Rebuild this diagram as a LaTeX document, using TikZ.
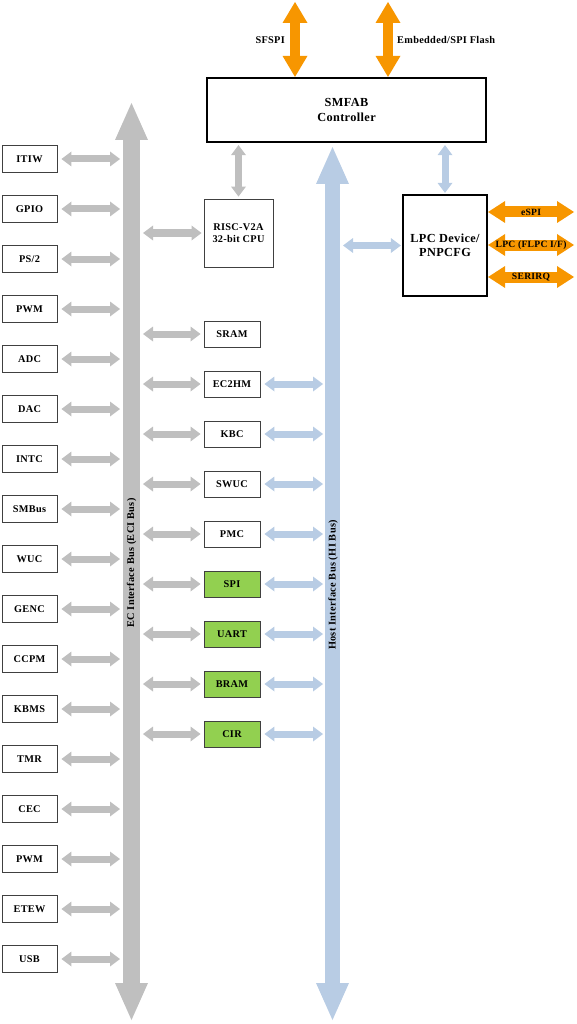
\documentclass[tikz,border=0pt]{standalone}
\usepackage{fontspec}
\setmainfont{Liberation Serif}[LetterSpace=3]
\usetikzlibrary{arrows.meta}
\definecolor{ecgray}{RGB}{191,191,191}
\definecolor{hiblue}{RGB}{184,204,228}
\definecolor{orng}{RGB}{247,150,0}
\definecolor{grn}{RGB}{146,208,80}
\definecolor{bdr}{RGB}{64,64,64}
\begin{document}
\begin{tikzpicture}[x=1pt,y=-1pt,
  lbl/.style={font=\bfseries\fontsize{10.3}{11}\selectfont,inner sep=1pt},
  box/.style={draw=bdr,line width=0.9pt,fill=white,minimum width=55pt,minimum height=27pt,font=\bfseries\fontsize{10.3}{11.5}\selectfont,inner sep=1pt,align=center},
  gbox/.style={box,fill=grn},
  bigbox/.style={draw=black,line width=2.2pt,fill=white,font=\bfseries\fontsize{12.3}{14.5}\selectfont,align=center,inner sep=1pt},
  garr/.style={draw=ecgray,line width=7pt,{Triangle[width=15pt,length=10pt,line width=0pt]}-{Triangle[width=15pt,length=10pt,line width=0pt]}},
  barr/.style={garr,draw=hiblue},
  oarrv/.style={draw=orng,line width=10.5pt,{Triangle[width=25pt,length=21pt,line width=0pt]}-{Triangle[width=25pt,length=21pt,line width=0pt]}},
  oarrh/.style={draw=orng,line width=11pt,{Triangle[width=22pt,length=17pt,line width=0pt]}-{Triangle[width=22pt,length=17pt,line width=0pt]}},
  busg/.style={draw=ecgray,line width=17pt,{Triangle[width=33pt,length=37pt,line width=0pt]}-{Triangle[width=33pt,length=37pt,line width=0pt]}},
  busb/.style={busg,draw=hiblue,line width=15pt},
  olbl/.style={font=\bfseries\fontsize{9.6}{10}\selectfont,inner sep=0pt,text=black}
]
\useasboundingbox (0,0) rectangle (576,1024);

% bus coordinates
\coordinate (ecitop) at (131.5,103);
\coordinate (ecibot) at (131.5,1020);
\coordinate (ecil) at (120,0);
\coordinate (ecir) at (143,0);
\coordinate (hitop) at (332.5,147);
\coordinate (hibot) at (332.5,1020);
\coordinate (hil) at (323,0);
\coordinate (hir) at (343,0);

% buses
\draw[busg] (ecitop) -- (ecibot);
\draw[busb] (hitop) -- (hibot);
\node[lbl,rotate=90] (ecilbl) at (131.5,563) {EC Interface Bus (ECI Bus)};
\node[lbl,rotate=90] (hilbl) at (333,585) {Host Interface Bus (HI Bus)};

% SMFAB controller
\node[bigbox,minimum width=279pt,minimum height=64pt] (smfab) at (346.5,110) {SMFAB\\Controller};
\coordinate (sfspitop) at (295,2);
\coordinate (flashtop) at (388,2);
\draw[oarrv] (sfspitop) -- (sfspitop |- smfab.north);
\draw[oarrv] (flashtop) -- (flashtop |- smfab.north);
\node[lbl,anchor=east] (sfspi) at (286,40) {SFSPI};
\node[lbl,anchor=west] (flash) at (396,40) {Embedded/SPI Flash};

% CPU
\node[box,minimum width=69pt,minimum height=68pt] (cpu) at (238.5,233) {RISC-V2A\\32-bit CPU};
\draw[garr,shorten <=2pt,shorten >=2pt] (cpu.north |- smfab.south) -- (cpu.north);
\draw[garr,shorten >=2pt] (cpu -| ecir) -- (cpu.west);

% LPC
\node[bigbox,minimum width=84pt,minimum height=101pt] (lpc) at (445,245.5) {LPC Device/\\PNPCFG};
\draw[barr,shorten <=2pt,shorten >=1pt] (lpc.north |- smfab.south) -- (lpc.north);
\draw[barr,shorten >=1pt] (lpc -| hir) -- (lpc.west);
\coordinate (espiend) at (574,212);
\coordinate (lpcend) at (574,245);
\coordinate (serend) at (574,277);
\draw[oarrh] (lpc.east |- espiend) -- node[olbl] (espi) {eSPI} (espiend);
\draw[oarrh] (lpc.east |- lpcend) -- node[olbl] (flpc) {LPC (FLPC I/F)} (lpcend);
\draw[oarrh] (lpc.east |- serend) -- node[olbl] (serirq) {SERIRQ} (serend);

% left column
\foreach \nm/\t [count=\i] in {itiw/ITIW,gpio/GPIO,ps2/{PS/2},pwma/PWM,adc/ADC,dac/DAC,intc/INTC,smbus/SMBus,wuc/WUC,genc/GENC,ccpm/CCPM,kbms/KBMS,tmr/TMR,cec/CEC,pwmb/PWM,etew/ETEW,usb/USB}{
  \node[box] (\nm) at (29.5,{109+50*\i}) {\t};
  \draw[garr,shorten <=4pt] (\nm.east) -- (\nm -| ecil);
}

% middle column
\foreach \nm/\t/\st [count=\i] in {sram/SRAM/box,ec2hm/EC2HM/box,kbc/KBC/box,swuc/SWUC/box,pmc/PMC/box,spi/SPI/gbox,uart/UART/gbox,bram/BRAM/gbox,cir/CIR/gbox}{
  \node[\st,minimum width=56pt,minimum height=26pt] (\nm) at (232,{284+50*\i}) {\t};
  \draw[garr,shorten >=3pt] (\nm -| ecir) -- (\nm.west);
}
\foreach \nm in {ec2hm,kbc,swuc,pmc,spi,uart,bram,cir}{
  \draw[barr,shorten <=4pt] (\nm.east) -- (\nm -| hil);
}
\end{tikzpicture}
\end{document}
